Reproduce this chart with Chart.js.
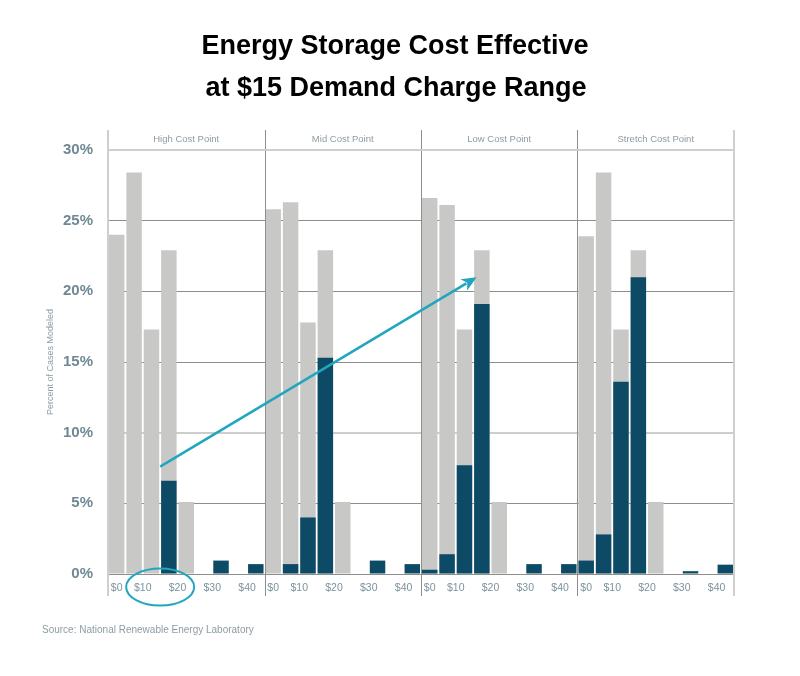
<!DOCTYPE html>
<html>
<head>
<meta charset="utf-8">
<script src="https://cdn.jsdelivr.net/npm/chart.js@4.4.1/dist/chart.umd.min.js"></script>
<style>
  html, body { margin: 0; padding: 0; background: #fff; }
  #wrap { width: 800px; height: 676px; }
</style>
</head>
<body>
<div id="wrap"><canvas id="storageChart" width="800" height="676"></canvas></div>
<script>
// demand charge slots inside every panel ($/kW)
const slotLabels = ["$0", "$5", "$10", "$15", "$20", "$25", "$30", "$35", "$40"];
const panelNames = ["High Cost Point", "Mid Cost Point", "Low Cost Point", "Stretch Cost Point"];

// all cases modeled (gray), percent
const allHigh = [24.0, 28.4, 17.3, 22.9, 5.1, null, null, null, null];
const allMid = [25.8, 26.3, 17.8, 22.9, 5.1, null, null, null, null];
const allLow = [26.6, 26.1, 17.3, 22.9, 5.1, null, null, null, null];
const allStretch = [23.9, 28.4, 17.3, 22.9, 5.1, null, null, null, null];

// cost effective cases (dark blue), percent
const effHigh = [null, null, null, 6.6, null, null, 0.95, null, 0.7];
const effMid = [null, 0.7, 4.0, 15.3, null, null, 0.95, null, 0.7];
const effLow = [0.3, 1.4, 7.7, 19.1, null, null, 0.7, null, 0.7];
const effStretch = [0.95, 2.8, 13.6, 21.0, null, null, 0.2, null, 0.66];

const yTicks = [0, 5, 10, 15, 20, 25, 30];

const GRAY = "#c8c8c6";
const NAVY = "#0c4a66";
const TEAL = "#21a6be";
const SLATE = "#6f8893";
const LIGHT_TEXT = "#8d9ca4";

const labels = [];
panelNames.forEach((p) => slotLabels.forEach((s) => labels.push(s)));
const allCases = [...allHigh, ...allMid, ...allLow, ...allStretch];
const effCases = [...effHigh, ...effMid, ...effLow, ...effStretch];

const framePlugin = {
  id: "frame",
  afterDatasetsDraw(chart) {
    const { ctx, chartArea: a, scales: { x, y } } = chart;
    const slotW = x.getPixelForValue(1) - x.getPixelForValue(0);
    const edge = (i) => x.getPixelForValue(i) - slotW / 2;
    const top = a.top - 20;
    const bottom = a.bottom + 22;

    ctx.save();
    // panel dividers
    for (let p = 0; p <= panelNames.length; p++) {
      const px = Math.round(edge(p * slotLabels.length));
      const outer = p === 0 || p === panelNames.length;
      ctx.strokeStyle = outer ? "#cfcfcf" : "#8e8e8e";
      ctx.lineWidth = outer ? 2 : 1;
      ctx.beginPath();
      ctx.moveTo(px + (outer ? 0 : 0.5), top);
      ctx.lineTo(px + (outer ? 0 : 0.5), bottom);
      ctx.stroke();
    }
    // header band line
    ctx.strokeStyle = "#cfcfcf";
    ctx.lineWidth = 2;
    ctx.beginPath();
    ctx.moveTo(a.left, a.top);
    ctx.lineTo(a.right, a.top);
    ctx.stroke();

    // panel headers
    ctx.fillStyle = LIGHT_TEXT;
    ctx.font = '9.5px "Liberation Sans", sans-serif';
    ctx.textAlign = "center";
    ctx.textBaseline = "middle";
    panelNames.forEach((name, p) => {
      const cx = (edge(p * slotLabels.length) + edge((p + 1) * slotLabels.length)) / 2;
      ctx.fillText(name, cx, a.top - 11);
    });

    // arrow from $15 at high cost to $15 at low cost
    const x0 = edge(3);
    const y0 = y.getPixelForValue(7.6);
    const x1 = x.getPixelForValue(21) - slotW * 0.3;
    const y1 = y.getPixelForValue(21.0);
    const ang = Math.atan2(y1 - y0, x1 - x0);
    const headL = 15;
    const headW = 6.5;
    const bx = x1 - headL * Math.cos(ang);
    const by = y1 - headL * Math.sin(ang);
    ctx.strokeStyle = TEAL;
    ctx.fillStyle = TEAL;
    ctx.lineWidth = 2.5;
    ctx.beginPath();
    ctx.moveTo(x0, y0);
    ctx.lineTo(bx + 3 * Math.cos(ang), by + 3 * Math.sin(ang));
    ctx.stroke();
    ctx.beginPath();
    ctx.moveTo(x1, y1);
    ctx.lineTo(bx - headW * Math.sin(ang), by + headW * Math.cos(ang));
    ctx.lineTo(bx + 4 * Math.cos(ang), by + 4 * Math.sin(ang));
    ctx.lineTo(bx + headW * Math.sin(ang), by - headW * Math.cos(ang));
    ctx.closePath();
    ctx.fill();

    // circle round the $10 - $20 range
    ctx.lineWidth = 2;
    ctx.beginPath();
    ctx.ellipse(edge(3), a.bottom + 13, 34, 18.5, 0, 0, Math.PI * 2);
    ctx.stroke();
    ctx.restore();
  },
  afterDraw(chart) {
    const { ctx } = chart;
    ctx.save();
    ctx.fillStyle = "#000";
    ctx.textAlign = "center";
    ctx.textBaseline = "alphabetic";
    ctx.font = 'bold 27px "Liberation Sans Narrow", "Liberation Sans", sans-serif';
    ctx.fillText("Energy Storage Cost Effective", 395, 54);
    ctx.fillText("at $15 Demand Charge Range", 396, 95.5);

    ctx.fillStyle = LIGHT_TEXT;
    ctx.textAlign = "left";
    ctx.textBaseline = "middle";
    ctx.font = '10px "Liberation Sans", sans-serif';
    ctx.fillText("Source: National Renewable Energy Laboratory", 42, 630);
    ctx.restore();
  },
};

new Chart(document.getElementById("storageChart"), {
  type: "bar",
  data: {
    labels: labels,
    datasets: [
      {
        label: "Cost effective",
        data: effCases,
        backgroundColor: NAVY,
        order: 0,
        barPercentage: 0.89,
        categoryPercentage: 1,
      },
      {
        label: "All cases",
        data: allCases,
        backgroundColor: GRAY,
        order: 1,
        barPercentage: 0.89,
        categoryPercentage: 1,
      },
    ],
  },
  options: {
    responsive: false,
    animation: false,
    devicePixelRatio: 1,
    layout: { padding: { top: 150, left: 44, right: 66, bottom: 0 } },
    plugins: {
      legend: { display: false },
      tooltip: { enabled: false },
    },
    scales: {
      x: {
        stacked: true,
        grid: { display: false, drawTicks: false },
        border: { display: false },
        afterFit: (scale) => {
          scale.height = 102;
        },
        ticks: {
          autoSkip: false,
          maxRotation: 0,
          padding: 8,
          color: "#7c929c",
          font: { family: '"Liberation Sans", sans-serif', size: 10.5 },
          callback: function (value, index) {
            const slot = index % slotLabels.length;
            if (slot % 2 !== 0) return "";
            // labels past $0 sit a little left of their bar in the original
            return slot === 0 ? this.getLabelForValue(value) : this.getLabelForValue(value) + "      ";
          },
        },
      },
      y: {
        stacked: false,
        min: 0,
        max: 30,
        afterFit: (scale) => {
          scale.width = 64;
        },
        afterBuildTicks: (scale) => {
          scale.ticks = yTicks.map((v) => ({ value: v }));
        },
        border: { display: false },
        grid: {
          drawTicks: false,
          color: (c) => (c.tick && c.tick.value === 10 ? "#cdcdcd" : "#8e8e8e"),
          lineWidth: (c) => (c.tick && c.tick.value === 10 ? 2 : 1),
        },
        ticks: {
          padding: 15,
          color: SLATE,
          font: { family: '"Liberation Sans", sans-serif', size: 15, weight: "bold" },
          callback: (v) => v + "%",
        },
        title: {
          display: true,
          text: "Percent of Cases Modeled",
          color: LIGHT_TEXT,
          padding: { top: 1, bottom: 0 },
          font: { family: '"Liberation Sans", sans-serif', size: 9 },
        },
      },
    },
  },
  plugins: [framePlugin],
});
</script>
</body>
</html>
